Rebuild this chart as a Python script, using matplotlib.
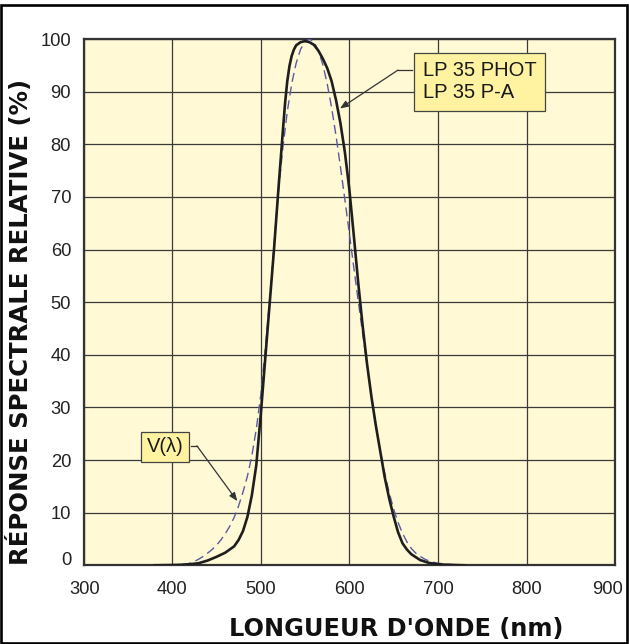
import matplotlib
matplotlib.use("Agg")
import matplotlib.pyplot as plt
from matplotlib.patches import Rectangle
from matplotlib.transforms import ScaledTranslation

# ---- data ----
wl_phot = [380, 390, 400, 410, 420, 430, 440, 450, 460, 470, 475, 480, 485, 490, 495,
           500, 505, 510, 515, 520, 525, 527.5, 530, 532.5, 535, 537.5, 540, 545, 550,
           555, 560, 565, 570, 575, 580, 585, 590, 595, 600, 605, 610, 615, 620, 625,
           630, 635, 640, 645, 650, 655, 660, 665, 670, 680, 690, 700, 710, 720, 730]
phot = [0, 0.03, 0.05, 0.1, 0.2, 0.4, 0.9, 1.6, 2.4, 3.6, 4.8, 6.5, 9.2, 13.3, 19.0,
        28.5, 39, 49.5, 60, 71.5, 82.5, 87.8, 92.0, 94.9, 96.8, 98.0, 98.8, 99.4, 99.6,
        99.4, 98.9, 97.8, 96.3, 94.5, 92, 88.4, 84, 78.5, 71.5, 62.8, 53.8, 45.6, 38.3, 32,
        26.5, 21.6, 16.7, 12.7, 9.3, 6.3, 4.2, 3.0, 2.1, 1.0, 0.45, 0.2, 0.1, 0.05, 0]

wl_v = [380, 385, 390, 395, 400, 405, 410, 415, 420, 425, 430, 435, 440, 445, 450,
        455, 460, 465, 470, 475, 480, 485, 490, 495, 500, 505, 510, 515, 520, 525,
        530, 535, 540, 545, 550, 555, 560, 565, 570, 575, 580, 585, 590, 595, 600,
        605, 610, 615, 620, 625, 630, 635, 640, 645, 650, 655, 660, 665, 670, 675,
        680, 685, 690, 695, 700, 710, 720, 730]
v_lambda = [0.004, 0.006, 0.012, 0.022, 0.04, 0.064, 0.12, 0.22, 0.4, 0.73, 1.16, 1.68, 2.3, 2.98, 3.8,
            4.8, 6.0, 7.39, 9.1, 11.26, 13.9, 16.93, 20.8, 25.86, 32.3, 40.73, 50.3, 60.82, 71.0, 79.32,
            86.2, 91.49, 95.4, 98.03, 99.5, 100.0, 99.5, 97.86, 95.2, 91.54, 87.0, 81.63, 75.7, 69.49, 63.1,
            56.68, 50.3, 44.12, 38.1, 32.1, 26.5, 21.7, 17.5, 13.82, 10.7, 8.16, 6.1, 4.46, 3.2, 2.32,
            1.7, 1.19, 0.82, 0.57, 0.41, 0.21, 0.105, 0.052]

x_ticks = [300, 400, 500, 600, 700, 800, 900]
y_ticks = [0, 10, 20, 30, 40, 50, 60, 70, 80, 90, 100]

label_phot = "LP 35 PHOT\nLP 35 P-A"
label_v = "V(λ)"
xlabel = "LONGUEUR D'ONDE (nm)"
ylabel = "RÉPONSE SPECTRALE RELATIVE (%)"

# ---- figure ----
W, H = 629, 644
fig = plt.figure(figsize=(W / 100, H / 100), dpi=100)
fig.patch.set_facecolor("white")

ax_l, ax_r, ax_t, ax_b = 83.5, 615.1, 39.0, 565.3
ax = fig.add_axes([ax_l / W, 1 - ax_b / H, (ax_r - ax_l) / W, (ax_b - ax_t) / H])
ax.set_facecolor("#FFF9D6")
ax.set_xlim(300, 900)
ax.set_ylim(0, 100)
ax.set_xticks(x_ticks)
ax.set_yticks(y_ticks)
ax.grid(True, color="#3a3a3a", linewidth=0.9)
ax.set_axisbelow(True)
for s in ax.spines.values():
    s.set_color("#333333")
    s.set_linewidth(1.6)
ax.tick_params(length=0, labelsize=13.2, colors="#222222")
ax.tick_params(axis="y", pad=9.0)
ax.tick_params(axis="x", pad=11.0)
for lab in ax.get_xticklabels() + ax.get_yticklabels():
    lab.set_fontfamily("Liberation Sans")

# small offsets of edge tick labels, as in the reference
t0 = ax.yaxis.get_major_ticks()[0]
t0.label1.set_transform(t0.label1.get_transform() + ScaledTranslation(0, 7 / 100, fig.dpi_scale_trans))
tx0 = ax.xaxis.get_major_ticks()[0]
tx0.label1.set_transform(tx0.label1.get_transform() + ScaledTranslation(1.5 / 100, 0, fig.dpi_scale_trans))
txl = ax.xaxis.get_major_ticks()[-1]
txl.label1.set_transform(txl.label1.get_transform() + ScaledTranslation(-8 / 100, 0, fig.dpi_scale_trans))

ax.plot(wl_v, v_lambda, color="#5a5aa2", linewidth=1.0, dashes=(6.5, 3.5), zorder=3)
ax.plot(wl_phot, phot, color="#1e1e1e", linewidth=1.9, zorder=4,
        solid_joinstyle="round")

# annotation boxes
box_kw = dict(facecolor="#FFF3A2", edgecolor="#444444", linewidth=0.9)
ax.text(683, 91.9, label_phot, ha="left", va="center", fontsize=14.5,
        family="Liberation Sans", color="#1a1a1a", linespacing=1.2, zorder=6,
        bbox=dict(boxstyle="square,pad=0.42", **box_kw))
ax.text(392, 22.5, label_v, ha="center", va="center", fontsize=14.5,
        family="Liberation Sans", color="#1a1a1a", zorder=6,
        bbox=dict(boxstyle="square,pad=0.28", **box_kw))

# leader lines with arrows
arr = dict(arrowstyle="-|>,head_length=0.5,head_width=0.2", color="#333333",
           linewidth=0.9, shrinkA=0, shrinkB=0)
ax.plot([671, 655], [94.1, 94.1], color="#333333", linewidth=0.9, zorder=5)
ax.annotate("", xy=(589.5, 86.8), xytext=(655, 94.1), arrowprops=arr, zorder=5)
ax.plot([421, 428], [22.7, 22.7], color="#333333", linewidth=0.9, zorder=5)
ax.annotate("", xy=(473.6, 12.2), xytext=(428, 22.7), arrowprops=arr, zorder=5)

# axis titles
fig.text(396.5 / W, 1 - 628.7 / H, xlabel, ha="center", va="center",
         fontsize=17.3, fontweight="bold", family="DejaVu Sans", color="#111111")
fig.text(20.5 / W, 1 - 322 / H, ylabel, ha="center", va="center", rotation=90,
         fontsize=17.6, fontweight="bold", family="DejaVu Sans", color="#111111")

# outer frame
fig.patches.append(Rectangle((1.3 / W, 1.2 / H), (627 - 1.3) / W, (643 - 5.5) / H,
                             transform=fig.transFigure, fill=False,
                             edgecolor="black", linewidth=1.9))

fig.savefig("out.png", dpi=100)
